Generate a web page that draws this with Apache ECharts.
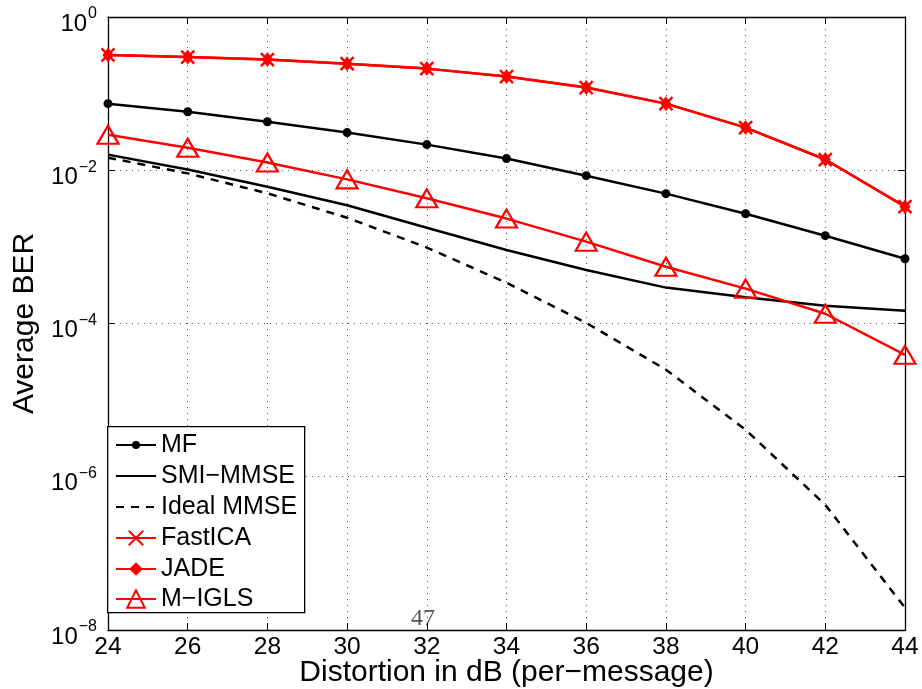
<!DOCTYPE html>
<html>
<head>
<meta charset="utf-8">
<script src="https://cdn.jsdelivr.net/npm/echarts@6/dist/echarts.min.js"></script>
<style>html,body{margin:0;padding:0;background:#fff}#c{width:922px;height:689px}</style>
</head>
<body>
<div id="c"></div>
<script>
const xValues = [24, 26, 28, 30, 32, 34, 36, 38, 40, 42, 44];
const mf = [0.074, 0.058, 0.043, 0.031, 0.0216, 0.0142, 0.0085, 0.00495, 0.00271, 0.0014, 0.0007];
const smiMmse = [0.016, 0.0102, 0.0061, 0.0035, 0.00178, 0.00091, 0.0005, 0.000294, 0.00022, 0.00017, 0.000147];
const idealMmse = [0.0146, 0.0091, 0.005, 0.0024, 0.00098, 0.00034, 0.000102, 2.5e-5, 4.1e-6, 4.3e-7, 1.95e-8];
const fastIca = [0.32, 0.30, 0.278, 0.246, 0.212, 0.167, 0.12, 0.074, 0.036, 0.0138, 0.00335];
const jade = [0.32, 0.30, 0.278, 0.246, 0.212, 0.167, 0.12, 0.074, 0.036, 0.0138, 0.00335];
const mIgls = [0.029, 0.0197, 0.0126, 0.0076, 0.0043, 0.00234, 0.00117, 0.00055, 0.000285, 0.000134, 3.9e-5];
const seriesNames = ['MF', 'SMI\u2212MMSE', 'Ideal MMSE', 'FastICA', 'JADE', 'M\u2212IGLS'];
const xTickLabels = ['24','26','28','30','32','34','36','38','40','42','44'];

const pair = arr => arr.map((v, i) => [xValues[i], v]);
const font = 'Liberation Sans, Arial, Helvetica, sans-serif';
const gridLine = { show: true, lineStyle: { color: '#555', type: [1, 5], width: 1 } };
const axisLineStyle = { show: true, onZero: false, lineStyle: { color: '#000', width: 1.3 } };
const tickStyle = { show: true, inside: true, length: 7, lineStyle: { color: '#000', width: 1 } };

// legend rows: [name index, row centre y, icon height]
const legendRows = [[0, 445, 10], [1, 476, 10], [2, 507, 10], [3, 538, 18], [4, 569, 17], [5, 599, 22]];
const legends = legendRows.map(([i, cy, h]) => ({
  orient: 'vertical', left: 115, top: cy - 14, z: 10,
  data: [ (i === 1 || i === 2) ? { name: seriesNames[i], itemStyle: { opacity: 0 } } : seriesNames[i] ],
  itemWidth: 40, itemHeight: h, padding: 0, itemGap: 0,
  textStyle: { fontFamily: font, fontSize: 25, lineHeight: 28, color: '#000' },
  selectedMode: false
}));

const chart = echarts.init(document.getElementById('c'), null, { renderer: 'canvas' });
chart.setOption({
  backgroundColor: '#fff',
  animation: false,
  grid: { left: 108, right: 17, top: 17, bottom: 59, containLabel: false, outerBoundsMode: 'none' },
  legend: legends,
  xAxis: [{
    type: 'value', min: 24, max: 44, interval: 2,
    name: 'Distortion in dB (per\u2212message)', nameLocation: 'middle', nameGap: 28, nameMoveOverlap: false,
    nameTextStyle: { fontFamily: font, fontSize: 30, color: '#000' },
    axisLine: axisLineStyle, axisTick: tickStyle,
    axisLabel: { fontFamily: font, fontSize: 24.5, color: '#000', margin: 5,
      formatter: v => xTickLabels[xValues.indexOf(v)] },
    splitLine: gridLine
  }, {
    type: 'value', min: 24, max: 44, interval: 2, position: 'top',
    axisLine: axisLineStyle, axisTick: tickStyle,
    axisLabel: { show: false }, splitLine: { show: false }
  }],
  yAxis: [{
    type: 'log', logBase: 10, min: 1e-8, max: 1, interval: 2, splitNumber: 4,
    name: 'Average BER', nameLocation: 'middle', nameGap: 62,
    nameTextStyle: { fontFamily: font, fontSize: 30, color: '#000' },
    axisLine: axisLineStyle, axisTick: tickStyle,
    minorTick: { show: false },
    axisLabel: {
      margin: 11,
      formatter: v => {
        const e = Math.round(Math.log10(v));
        return '{b|10}{s|' + (e < 0 ? '\u2212' + (-e) : String(e)) + '}';
      },
      rich: {
        b: { fontFamily: font, fontSize: 24, color: '#000', verticalAlign: 'bottom', padding: [14, 0, 0, 0] },
        s: { fontFamily: font, fontSize: 16, color: '#000', verticalAlign: 'bottom', padding: [0, 0, 14, 1] }
      }
    },
    splitLine: gridLine
  }, {
    type: 'log', logBase: 10, min: 1e-8, max: 1, interval: 2, splitNumber: 4, position: 'right',
    axisLine: axisLineStyle, axisTick: tickStyle,
    axisLabel: { show: false }, splitLine: { show: false }
  }],
  graphic: [{
    type: 'rect', left: 107, top: 426, z: 3,
    shape: { width: 197, height: 186 },
    style: { fill: '#fff', stroke: '#000', lineWidth: 1.3 }
  }, {
    type: 'text', left: 411, top: 607, z: 0,
    style: { text: '47', fontFamily: 'Liberation Serif, DejaVu Serif, serif', fontSize: 24, fill: '#555' }
  }],
  series: [
    { name: seriesNames[0], type: 'line', data: pair(mf), symbol: 'circle', symbolSize: 9,
      lineStyle: { color: '#000', width: 2.5 }, itemStyle: { color: '#000' }, z: 3 },
    { name: seriesNames[1], type: 'line', data: pair(smiMmse), showSymbol: false, symbol: 'none',
      lineStyle: { color: '#000', width: 2.5 }, itemStyle: { color: '#000' }, z: 2 },
    { name: seriesNames[2], type: 'line', data: pair(idealMmse), showSymbol: false, symbol: 'none',
      lineStyle: { color: '#000', width: 2.5, type: [8, 7] }, itemStyle: { color: '#000' }, z: 2 },
    { name: seriesNames[4], type: 'line', data: pair(jade), symbol: 'diamond', symbolSize: [11, 15],
      lineStyle: { color: '#ff0000', width: 2.5 }, itemStyle: { color: '#ff0000' }, z: 4 },
    { name: seriesNames[3], type: 'line', data: pair(fastIca), symbol: 'path://M0,0L10,10M10,0L0,10', symbolSize: 13,
      lineStyle: { color: '#ff0000', width: 2.5 }, itemStyle: { color: '#ff0000', borderColor: '#ff0000', borderWidth: 2.5 }, z: 5 },
    { name: seriesNames[5], type: 'line', data: pair(mIgls), symbol: 'triangle', symbolSize: [21, 18],
      lineStyle: { color: '#ff0000', width: 2.5 }, itemStyle: { color: 'rgba(255,255,255,0)', borderColor: '#ff0000', borderWidth: 2.2 }, z: 4 }
  ]
});
</script>
</body>
</html>
